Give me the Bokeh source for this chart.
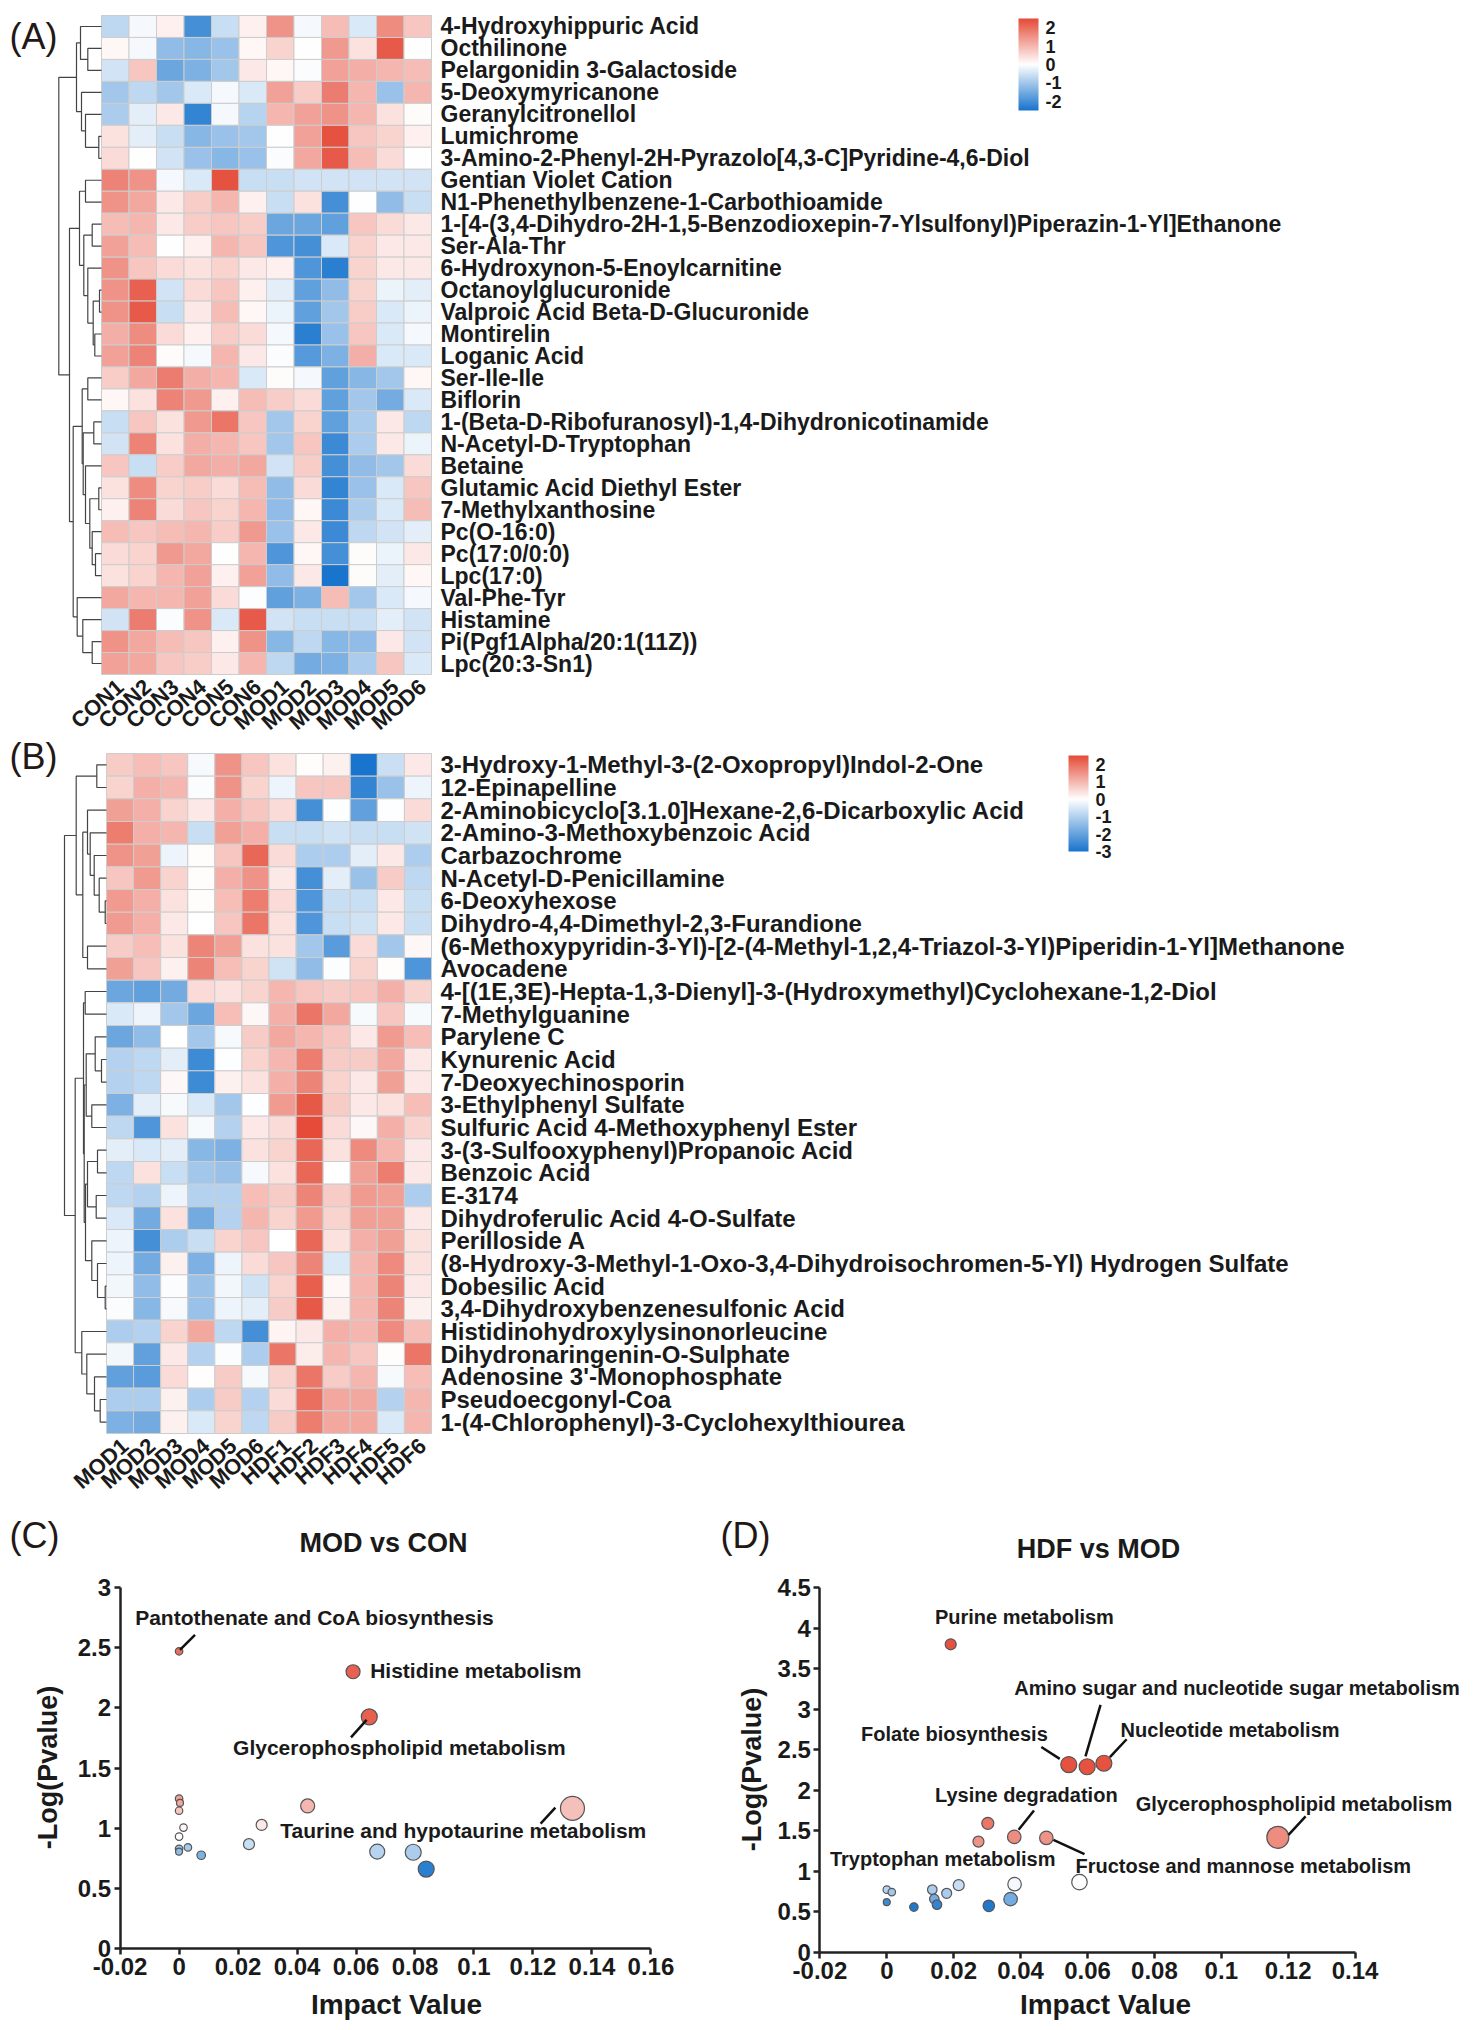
import math
from bokeh.plotting import figure
from bokeh.layouts import column, row
from bokeh.models import (Range1d, LinearColorMapper, ColorBar, FixedTicker, ColumnDataSource, AllLabels)
from bokeh.core.properties import value
from bokeh.embed import file_html
from bokeh.resources import INLINE

FONT = "Liberation Sans"
INK = "#1a1a1a"

cols_a = ["CON1","CON2","CON3","CON4","CON5","CON6","MOD1","MOD2","MOD3","MOD4","MOD5","MOD6"]
rows_a = ["4-Hydroxyhippuric Acid","Octhilinone","Pelargonidin 3-Galactoside","5-Deoxymyricanone","Geranylcitronellol","Lumichrome",
"3-Amino-2-Phenyl-2H-Pyrazolo[4,3-C]Pyridine-4,6-Diol","Gentian Violet Cation","N1-Phenethylbenzene-1-Carbothioamide",
"1-[4-(3,4-Dihydro-2H-1,5-Benzodioxepin-7-Ylsulfonyl)Piperazin-1-Yl]Ethanone","Ser-Ala-Thr","6-Hydroxynon-5-Enoylcarnitine",
"Octanoylglucuronide","Valproic Acid Beta-D-Glucuronide","Montirelin","Loganic Acid","Ser-Ile-Ile","Biflorin",
"1-(Beta-D-Ribofuranosyl)-1,4-Dihydronicotinamide","N-Acetyl-D-Tryptophan","Betaine","Glutamic Acid Diethyl Ester","7-Methylxanthosine",
"Pc(O-16:0)","Pc(17:0/0:0)","Lpc(17:0)","Val-Phe-Tyr","Histamine","Pi(Pgf1Alpha/20:1(11Z))","Lpc(20:3-Sn1)"]
vals_a = [
[-0.7,-0.1,0.2,-2.0,-0.6,0.2,1.5,-0.1,0.9,-0.4,1.6,0.8],
[0.1,-0.1,-1.2,-1.3,-1.1,0.1,0.6,0.0,1.4,0.4,2.3,0.0],
[-0.5,0.8,-1.6,-1.4,-1.0,0.3,0.1,-0.05,1.3,1.1,1.0,0.9],
[-1.0,-0.7,-1.0,-0.4,-0.1,-0.4,1.3,0.7,1.8,1.0,-1.1,1.0],
[-0.9,-0.3,0.3,-2.2,-0.1,-0.8,1.0,1.3,1.5,1.0,0.4,0.05],
[0.4,-0.3,-0.6,-1.3,-1.1,-1.0,0.0,1.3,2.4,0.8,0.6,0.2],
[0.5,0.0,-0.5,-1.1,-1.3,-1.1,-0.05,1.2,2.3,0.9,0.5,0.0],
[1.7,1.5,-0.1,-0.4,2.4,-0.6,-0.6,-0.5,-0.5,-0.5,-0.5,-0.5],
[1.5,1.2,0.3,0.7,1.0,0.2,-0.6,0.4,-2.0,0.0,-1.2,-0.6],
[0.9,1.0,0.3,0.7,0.8,0.7,-1.6,-1.6,-1.7,0.8,0.5,0.3],
[1.3,0.9,0.0,0.2,1.0,0.8,-1.9,-2.0,-0.4,0.6,0.3,0.3],
[1.5,0.8,0.5,0.4,0.6,0.3,0.2,-1.9,-2.3,0.6,0.3,0.3],
[1.5,2.2,-0.5,0.5,0.8,0.2,-0.3,-1.7,-1.2,0.6,-0.2,-0.3],
[1.5,2.3,-0.6,0.3,0.9,0.1,-0.2,-1.7,-1.0,0.7,-0.4,-0.2],
[1.1,1.6,0.5,0.2,0.7,0.5,-0.1,-2.3,-1.1,0.8,-0.4,-0.1],
[1.3,1.7,0.05,-0.1,1.0,0.3,-0.05,-1.8,-1.4,1.1,-0.4,-0.4],
[0.7,1.2,1.8,1.1,1.0,-0.4,0.05,-0.1,-1.7,-1.3,-1.0,0.1],
[0.1,0.4,1.7,1.4,0.2,0.9,0.7,0.5,-1.7,-1.0,-1.5,-0.4],
[-0.6,0.8,0.4,1.4,1.9,0.8,-1.0,0.6,-1.7,-0.9,0.3,-0.7],
[-0.5,1.7,0.4,1.1,1.0,0.8,-1.0,0.8,-2.1,-0.9,0.3,-0.2],
[0.8,-0.6,0.7,1.2,1.1,1.2,-0.5,0.7,-2.0,-1.2,-1.0,0.5],
[0.4,1.6,0.6,0.7,0.5,0.9,-1.2,0.5,-2.2,-1.1,-0.4,0.8],
[0.2,1.7,0.5,0.8,0.6,1.0,-1.2,0.1,-2.1,-0.9,-0.4,0.9],
[0.9,0.8,0.9,1.0,0.7,1.4,-1.1,0.3,-2.1,-0.7,-0.5,-0.3],
[0.5,0.6,1.4,1.2,0.0,1.0,-1.9,0.1,-2.0,0.05,-0.2,0.3],
[0.4,0.6,1.0,1.3,0.2,1.3,-1.2,0.3,-2.5,0.05,-0.3,0.1],
[1.2,1.0,1.0,1.3,0.5,-0.03,-1.7,-1.4,0.9,-1.0,-0.4,-0.1],
[-0.5,1.8,-0.05,1.5,-0.4,2.3,-0.5,-0.6,-0.6,-0.6,-0.3,-0.5],
[1.5,1.2,0.9,0.8,0.2,1.5,-1.3,-0.7,-1.3,-1.2,0.3,-0.5],
[1.3,1.2,0.8,0.7,0.3,1.0,-0.7,-1.5,-1.4,-0.9,0.8,-0.4],
]
cols_b = ["MOD1","MOD2","MOD3","MOD4","MOD5","MOD6","HDF1","HDF2","HDF3","HDF4","HDF5","HDF6"]
rows_b = ["3-Hydroxy-1-Methyl-3-(2-Oxopropyl)Indol-2-One","12-Epinapelline","2-Aminobicyclo[3.1.0]Hexane-2,6-Dicarboxylic Acid",
"2-Amino-3-Methoxybenzoic Acid","Carbazochrome","N-Acetyl-D-Penicillamine","6-Deoxyhexose","Dihydro-4,4-Dimethyl-2,3-Furandione",
"(6-Methoxypyridin-3-Yl)-[2-(4-Methyl-1,2,4-Triazol-3-Yl)Piperidin-1-Yl]Methanone","Avocadene",
"4-[(1E,3E)-Hepta-1,3-Dienyl]-3-(Hydroxymethyl)Cyclohexane-1,2-Diol","7-Methylguanine","Parylene C","Kynurenic Acid","7-Deoxyechinosporin",
"3-Ethylphenyl Sulfate","Sulfuric Acid 4-Methoxyphenyl Ester","3-(3-Sulfooxyphenyl)Propanoic Acid","Benzoic Acid","E-3174",
"Dihydroferulic Acid 4-O-Sulfate","Perilloside A","(8-Hydroxy-3-Methyl-1-Oxo-3,4-Dihydroisochromen-5-Yl) Hydrogen Sulfate",
"Dobesilic Acid","3,4-Dihydroxybenzenesulfonic Acid","Histidinohydroxylysinonorleucine","Dihydronaringenin-O-Sulphate",
"Adenosine 3'-Monophosphate","Pseudoecgonyl-Coa","1-(4-Chlorophenyl)-3-Cyclohexylthiourea"]
vals_b = [
[0.7,0.9,0.8,-0.12,1.5,0.8,0.4,0.03,0.2,-3.0,-0.7,0.3],
[0.6,1.1,1.0,-0.06,1.5,0.6,-0.24,0.8,0.8,-2.64,-1.32,-0.24],
[1.3,1.1,0.6,0.3,1.1,0.8,0.5,-2.4,-0.02,-2.04,-0.02,0.5],
[1.8,1.1,1.0,-0.72,1.3,1.1,-0.72,-0.72,-0.6,-0.72,-0.72,-0.6],
[1.5,1.3,-0.24,0.03,0.8,2.1,0.5,-1.08,-1.08,-0.36,0.3,-1.08],
[0.8,1.4,0.6,0.05,1.1,1.5,0.3,-2.4,-0.36,-1.32,0.7,-0.84],
[1.4,1.1,0.4,0.05,0.9,1.8,0.5,-2.28,-0.72,-0.72,0.3,-0.72],
[1.4,1.1,0.3,0.0,0.8,1.9,0.4,-2.28,-0.72,-0.6,0.3,-0.72],
[0.7,0.9,0.4,1.7,1.3,0.4,0.4,-1.2,-2.16,0.5,-1.2,0.1],
[1.3,0.8,0.2,1.7,0.9,0.6,-0.6,-1.44,-0.04,0.6,0.03,-2.28],
[-1.92,-2.04,-1.8,0.5,0.4,0.6,1.0,0.8,0.7,0.8,1.1,0.6],
[-0.48,-0.24,-1.2,-1.92,0.9,0.1,1.1,1.9,1.2,-0.12,0.8,-0.12],
[-1.92,-1.44,0.0,-1.2,-0.12,0.7,1.2,1.0,0.8,0.3,1.4,0.9],
[-0.96,-0.84,-0.36,-2.52,-0.02,0.6,1.0,1.8,0.7,0.7,1.2,0.3],
[-0.96,-0.84,0.1,-2.52,0.2,0.4,1.1,1.7,0.6,0.3,1.3,0.3],
[-1.68,-0.36,-0.12,-0.48,-1.2,-0.02,1.4,2.3,0.7,0.3,0.4,0.9],
[-0.84,-2.28,0.4,-0.12,-0.96,0.3,0.5,2.5,0.5,0.1,1.1,0.6],
[-0.36,-0.48,-0.36,-1.56,-1.68,0.4,0.6,2.1,0.4,1.6,1.0,0.3],
[-0.84,0.4,-0.72,-1.2,-1.32,-0.12,0.4,2.1,0.0,1.3,1.8,0.3],
[-0.84,-0.96,-0.24,-0.96,-0.96,0.9,0.7,1.7,0.7,1.4,1.3,-1.08],
[-0.48,-1.8,0.4,-1.8,-0.96,1.0,0.6,1.4,0.6,1.3,1.3,0.3],
[-0.24,-2.4,-1.08,-0.72,0.6,0.8,0.0,2.1,0.4,1.1,1.3,0.4],
[-0.24,-1.8,0.2,-1.68,-0.24,0.5,0.8,1.7,-0.48,1.0,1.6,0.4],
[-0.18,-1.44,-0.06,-1.32,-0.18,-0.6,0.6,2.2,0.1,1.0,1.7,0.3],
[-0.06,-1.56,-0.12,-1.32,-0.24,-0.36,0.7,2.3,0.2,1.0,1.7,0.2],
[-1.08,-0.96,0.6,1.2,-0.84,-2.4,0.15,0.3,1.1,1.0,1.6,0.9],
[-0.18,-2.04,0.3,-0.96,-0.06,-1.08,1.9,0.25,1.0,0.8,0.05,1.9],
[-2.04,-2.16,0.5,0.02,0.7,-0.12,0.6,1.9,0.7,1.0,-0.12,0.9],
[-1.08,-1.08,0.2,-1.08,0.7,-0.96,0.5,2.0,1.2,1.2,-0.96,1.0],
[-1.68,-1.8,0.2,-0.48,0.6,-0.84,0.7,1.8,1.2,1.2,-0.48,1.0],
]
# dendrograms: (merge height, child, child), leaves are row numbers
tree_a = (42.7,
  (25, (21, 0, (13.7, 1, 2)), (20, 3, (16, 4, (2.7, 5, 6)))),
  (32,
    (22, (16, 7, 8), (17.7, (9.3, 9, 10), (13.7, 11, (8.3, (2, 12, 13), (6.7, 14, 15))))),
    (28.3,
      (19.3, (13.7, 16, 17), (18.3, (7.7, 18, 19), (16, 20, (11.7, (2.7, 21, 22), (9.3, 23, (6, 24, 25)))))),
      (24.3, 26, (18.7, 27, (9.3, 28, 29))))))
tree_b = (42,
  (30.3, (9.7, 0, 1), (23.7, (19, 2, (16.3, 3, (12.3, 4, (7.3, 5, (1.3, 6, 7))))), (19, 8, 9))),
  (31.3,
    (23, (21.3, 10, 11),
      (22.3, (20.3, (11.3, 12, (5, 13, 14)), (14.7, 15, 16)),
             (21, (19, (9, 17, 18), (10.3, 19, 20)), (14.7, 21, (9, 22, (1.3, 23, 24)))))),
    (24.7, 25, (19.7, 26, (12, 27, (6.3, 28, 29))))))

c_x = [0,0.059,0.0645,0.1334,0.0436,0.028,0,0.0003,0,0.0015,0,0.0237,0,0,0.003,0.0075,0.0672,0.0794,0.0838]
c_y = [2.47,2.30,1.925,1.165,1.185,1.027,1.245,1.21,1.145,1.005,0.93,0.867,0.828,0.805,0.84,0.775,0.805,0.80,0.66]
c_size = [7.5,14,16,24,14,11,7.5,7,7.5,7.5,7.5,11,7.5,7,7.5,8.5,15,16,16]
c_shade = [2.0,2.2,2.2,0.87,1.0,0.3,1.3,1.2,0.8,0.1,0,-0.6,-1.0,-1.2,-0.95,-1.4,-0.8,-0.9,-2.3]
c_labels = ["Pantothenate and CoA biosynthesis","Histidine metabolism","Glycerophospholipid metabolism","Taurine and hypotaurine metabolism"]
c_label_x = [-0.0149,0.0648,0.0183,0.0343]
c_label_y = [2.747,2.312,1.667,0.982]
c_lead = [(0.0003,2.481,0.0054,2.607),(0.0636,1.90,0.0583,1.754),(0.1276,1.170,0.1226,1.038)]

d_x = [0.0191,0.0544,0.0599,0.0649,0.0302,0.0274,0.0381,0.0477,0.1169,0.0576,0.0382,0.037,0.0305,0.0215,0.0179,0.0136,0.0142,0.015,0.0081,0,0,0.0015]
d_y = [3.80,2.317,2.29,2.333,1.592,1.367,1.425,1.4125,1.42,0.867,0.842,0.658,0.575,0.83,0.73,0.775,0.66,0.59,0.56,0.62,0.775,0.745]
d_size = [11,16,16,16,12,11,13.5,13.5,22,15.5,13.5,13.5,11.5,11,10,9.5,9.5,9.5,8.5,7,7.5,7.5]
d_shade = [2.4,2.4,2.4,2.4,1.9,1.5,1.6,1.5,1.6,0,-0.1,-1.5,-2.4,-0.6,-0.9,-0.9,-1.5,-2.2,-2.4,-2.1,-0.8,-1.0]
d_labels = ["Purine metabolism","Amino sugar and nucleotide sugar metabolism","Folate biosynthesis","Nucleotide metabolism",
            "Lysine degradation","Glycerophospholipid metabolism","Tryptophan metabolism","Fructose and mannose metabolism"]
d_label_x = [0.0144,0.0381,-0.0077,0.0699,0.0144,0.0744,-0.017,0.0564]
d_label_y = [4.133,3.2625,2.70,2.742,1.9375,1.833,1.158,1.0625]
d_lead = [(0.0462,2.533,0.0517,2.3875),(0.0639,3.054,0.0594,2.417),(0.0717,2.629,0.0667,2.408),
          (0.044,1.75,0.0394,1.5125),(0.1252,1.679,0.1201,1.45),(0.0498,1.3875,0.0591,1.2125)]

x_ticks_c = [-0.02,0,0.02,0.04,0.06,0.08,0.1,0.12,0.14,0.16]
y_ticks_c = [0,0.5,1,1.5,2,2.5,3]
x_ticks_d = [-0.02,0,0.02,0.04,0.06,0.08,0.1,0.12,0.14]
y_ticks_d = [0,0.5,1,1.5,2,2.5,3,3.5,4,4.5]

RED = (229, 75, 56)
BLUE = (24, 116, 205)

def palette(lo, hi, n=256):
    out = []
    for i in range(n):
        v = lo + (hi - lo) * i / (n - 1)
        if v >= 0:
            t, c = v / hi, RED
        else:
            t, c = v / lo, BLUE
        out.append("#%02x%02x%02x" % tuple(round(255 + (k - 255) * t) for k in c))
    return out

mapper_25 = LinearColorMapper(palette=palette(-2.5, 2.5), low=-2.5, high=2.5)


def walk(node, xs, ys, cell):
    if isinstance(node, int):
        return node + 0.5, 0.0
    h, a, b = node
    ya, ha = walk(a, xs, ys, cell)
    yb, hb = walk(b, xs, ys, cell)
    xs.append([-ha / cell, -h / cell, -h / cell, -hb / cell])
    ys.append([ya, ya, yb, yb])
    return (ya + yb) / 2, h


WIDTH = 1470


def heat(cols, rows, vals, tree, mapper, fig_top, fig_h, left, top, bottom, letter, letter_y,
         bar_left, bar_top, bar_h, bar_ticks, col_y, row_font):
    cw = (431 - left) / len(cols)
    rh = (bottom - top) / len(rows)
    fx = lambda px: (px - left) / cw
    fy = lambda py: (py - top) / rh
    p = figure(width=WIDTH, height=fig_h, output_backend="svg", toolbar_location=None,
               x_axis_location=None, y_axis_location=None, min_border=0,
               x_range=Range1d(fx(0), fx(WIDTH)), y_range=Range1d(fy(fig_top + fig_h), fy(fig_top)))
    p.grid.visible = False
    p.outline_line_color = None
    src = ColumnDataSource(dict(
        x=[j + 0.5 for i in range(len(rows)) for j in range(len(cols))],
        y=[i + 0.5 for i in range(len(rows)) for j in range(len(cols))],
        v=[vals[i][j] for i in range(len(rows)) for j in range(len(cols))]))
    p.rect("x", "y", 1, 1, source=src, fill_color={"field": "v", "transform": mapper},
           line_color="#cdcdcd", line_width=1)
    xs, ys = [], []
    walk(tree, xs, ys, cw)
    p.multi_line(xs, ys, line_color="#444444", line_width=1.2)
    p.text([fx(440)] * len(rows), [i + 0.5 for i in range(len(rows))], text=rows,
           text_font=value(FONT), text_font_style="bold", text_font_size=row_font,
           text_baseline="middle", text_color=INK)
    p.text([j + 0.68 for j in range(len(cols))], [fy(col_y)] * len(cols), text=cols, angle=0.72,
           text_font=value(FONT), text_font_style="bold", text_font_size="22px", text_align="right",
           text_baseline="middle", text_color=INK)
    p.text([fx(9)], [fy(letter_y)], text=[letter], text_font=value(FONT), text_font_size="36px",
           text_baseline="middle", text_color="#231815")
    cb = ColorBar(color_mapper=mapper, ticker=FixedTicker(ticks=bar_ticks), width=20, height=bar_h,
                  location=(bar_left, fig_h - (bar_top - fig_top) - bar_h), padding=0, background_fill_color=None,
                  major_label_text_font=FONT, major_label_text_font_style="bold",
                  major_label_text_font_size="18px", major_label_text_color=INK,
                  major_label_overrides={t: str(t) for t in bar_ticks}, major_label_policy=AllLabels(),
                  major_tick_line_color=None, minor_tick_line_color=None, bar_line_color=None,
                  label_standoff=7, border_line_color=None)
    p.add_layout(cb, "center")
    return p


mapper_b = LinearColorMapper(palette=palette(-3, 2.5), low=-3, high=2.5)
pa = heat(cols_a, rows_a, vals_a, tree_a, mapper_25, 0, 735, 101, 15, 674, "(A)", 36,
          1018, 18, 92, [-2, -1, 0, 1, 2], 683, "23px")
pb = heat(cols_b, rows_b, vals_b, tree_b, mapper_b, 735, 760, 106, 753, 1433, "(B)", 756,
          1068, 755, 96, [-3, -2, -1, 0, 1, 2], 1442, "24px")


def bubble(xr, yr, xt, yt, fig_left, width, frame_l, frame_r, frame_t, frame_b, xs, ys, sz, sh,
           labs, lx, ly, lead, label_font, title, title_px, letter, letter_px, xlab_px, ylab_px):
    FIG_TOP, FIG_H = 1495, 530
    fx = lambda px: xr[0] + (px - frame_l) * (xr[1] - xr[0]) / (frame_r - frame_l)
    fy = lambda py: yr[0] + (frame_b - py) * (yr[1] - yr[0]) / (frame_b - frame_t)
    p = figure(width=width, height=FIG_H, output_backend="svg", toolbar_location=None,
               x_range=Range1d(fx(fig_left), fx(fig_left + width)),
               y_range=Range1d(fy(FIG_TOP + FIG_H), fy(FIG_TOP)), min_border=0)
    p.grid.visible = False
    p.outline_line_color = None
    for ax, ticks, rng in ((p.xaxis[0], xt, xr), (p.yaxis[0], yt, yr)):
        ax.ticker = FixedTicker(ticks=ticks)
        ax.bounds = rng
        ax.major_label_overrides = {t: ("%g" % t) for t in ticks}
        ax.minor_tick_line_color = None
        ax.major_tick_in = 0
        ax.major_tick_out = 6
        ax.major_tick_line_width = 2.5
        ax.major_tick_line_color = "#222222"
        ax.axis_line_width = 2.5
        ax.axis_line_color = "#222222"
        ax.major_label_text_font = FONT
        ax.major_label_text_font_style = "bold"
        ax.major_label_text_font_size = "24px"
        ax.major_label_text_color = INK
        ax.major_label_standoff = 3
        ax.major_label_policy = AllLabels()
    p.xaxis[0].fixed_location = yr[0]
    p.yaxis[0].fixed_location = xr[0]
    p.yaxis[0].major_label_orientation = "horizontal"
    src = ColumnDataSource(dict(x=xs, y=ys, s=sz, v=sh))
    p.scatter("x", "y", size="s", source=src, fill_color={"field": "v", "transform": mapper_25},
              line_color="#555555", line_width=1.2)
    p.segment([l[0] for l in lead], [l[1] for l in lead], [l[2] for l in lead], [l[3] for l in lead],
              line_color="#111111", line_width=2.5)
    p.text(lx, ly, text=labs, text_font=value(FONT), text_font_style="bold", text_font_size=label_font,
           text_baseline="middle", text_color=INK)
    p.text([fx(title_px[0])], [fy(title_px[1])], text=[title], text_font=value(FONT), text_font_style="bold",
           text_font_size="27px", text_align="center", text_baseline="middle", text_color=INK)
    p.text([fx(letter_px[0])], [fy(letter_px[1])], text=[letter], text_font=value(FONT), text_font_size="36px",
           text_baseline="middle", text_color="#231815")
    p.text([fx(xlab_px[0])], [fy(xlab_px[1])], text=["Impact Value"], text_font=value(FONT), text_font_style="bold",
           text_font_size="28px", text_align="center", text_baseline="middle", text_color=INK)
    p.text([fx(ylab_px[0])], [fy(ylab_px[1])], text=["-Log(Pvalue)"], angle=math.pi / 2, text_font=value(FONT),
           text_font_style="bold", text_font_size="27px", text_align="center", text_baseline="middle", text_color=INK)
    return p


pc = bubble((-0.02, 0.16), (0, 3), x_ticks_c, y_ticks_c, 0, 700, 119.6, 650.4, 1587, 1948,
            c_x, c_y, c_size, c_shade, c_labels, c_label_x, c_label_y, c_lead, "21px",
            "MOD vs CON", (383, 1542), "(C)", (9, 1535), (396, 2004), (47, 1767))
pd = bubble((-0.02, 0.14), (0, 4.5), x_ticks_d, y_ticks_d, 700, 770, 819.4, 1354.6, 1587, 1952,
            d_x, d_y, d_size, d_shade, d_labels, d_label_x, d_label_y, d_lead, "20px",
            "HDF vs MOD", (1098, 1548), "(D)", (720, 1535), (1105, 2004), (751, 1769))

layout = column(pa, pb, row(pc, pd, spacing=0), spacing=0)
open("out.html", "w").write(file_html(layout, INLINE))
